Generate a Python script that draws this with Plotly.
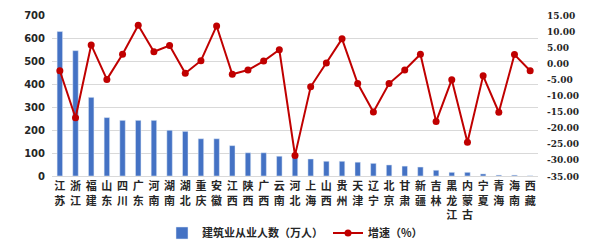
import plotly.graph_objects as go

provinces = ["江苏","浙江","福建","山东","四川","广东","河南","湖南","湖北","重庆","安徽","江西","陕西","广西","云南","河北",
             "上海","山西","贵州","天津","辽宁","北京","甘肃","新疆","吉林","黑龙江","内蒙古","宁夏","青海","海南","西藏"]
workers = [628, 545, 342, 254, 242, 242, 242, 199, 194, 162, 162, 132, 101, 101, 86, 84,
           74, 64, 64, 60, 55, 48, 43, 39, 25, 16, 16, 9, 4, 4, 1]
growth = [-2.3, -16.9, 5.7, -5.0, 2.8, 11.8, 3.6, 5.5, -3.1, 0.8, 11.6, -3.4, -2.1, 0.7, 4.2, -28.6,
          -7.3, 0.1, 7.6, -6.3, -15.1, -6.3, -2.1, 2.8, -18.1, -5.1, -24.5, -3.9, -15.2, 2.7, -2.3]
left_ticks = [0, 100, 200, 300, 400, 500, 600, 700]
right_ticks = [-35, -30, -25, -20, -15, -10, -5, 0, 5, 10, 15]

labels = ["<b>" + "<br>".join(list(p)) + "</b>" for p in provinces]

fig = go.Figure()
fig.add_trace(go.Bar(x=labels, y=workers, name="<b>建筑业从业人数（万人）</b>",
                     marker_color="#4472C4", width=0.35, yaxis="y"))
fig.add_trace(go.Scatter(x=labels, y=growth, name="<b>增速（%）</b>", mode="lines+markers",
                         line=dict(color="#C00000", width=2),
                         marker=dict(color="#C00000", size=7), yaxis="y2"))

fig.update_layout(
    width=594, height=244,
    margin=dict(l=52, r=56, t=15, b=68, autoexpand=False),
    paper_bgcolor="white", plot_bgcolor="white",
    font=dict(family="Noto Sans CJK SC", color="#262626"),
    showlegend=True,
    legend=dict(orientation="h", x=0.5, xanchor="center", y=-0.354, yanchor="middle",
                font=dict(size=11, color="#262626"), traceorder="normal"),
    xaxis=dict(range=[-0.5, len(provinces) - 0.5], tickfont=dict(size=11, color="#262626"),
               showgrid=False, automargin=False,
               showline=True, linecolor="#D9D9D9", ticks="", tickangle=0),
    yaxis=dict(range=[0, 700], tickvals=left_ticks, ticktext=[f"<b>{v}</b>" for v in left_ticks],
               showgrid=True, gridcolor="#D9D9D9", automargin=False,
               tickfont=dict(size=10, color="#262626", family="DejaVu Sans"),
               zeroline=False, ticklabelstandoff=6),
    yaxis2=dict(range=[-35, 15], tickvals=right_ticks, ticktext=[f"<b>{v:.2f}</b>" for v in right_ticks],
                overlaying="y", side="right", automargin=False,
                showgrid=False, zeroline=False, ticklabelstandoff=8,
                tickfont=dict(size=10, color="#262626", family="DejaVu Serif Condensed, DejaVu Serif")),
)

fig.write_html("out.html")
